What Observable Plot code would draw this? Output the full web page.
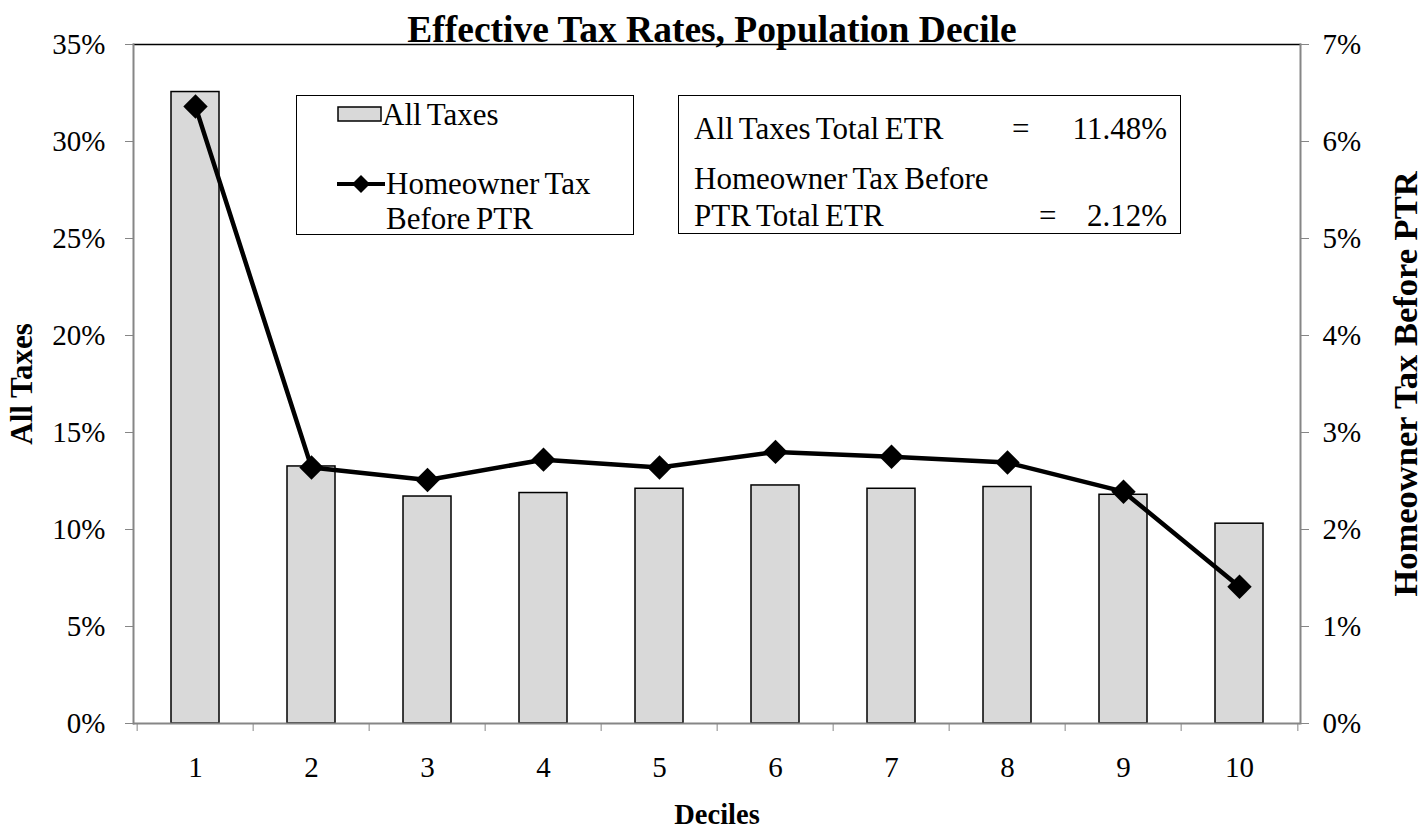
<!DOCTYPE html>
<html><head><meta charset="utf-8">
<script src="https://cdn.jsdelivr.net/npm/d3@7"></script>
<script src="https://cdn.jsdelivr.net/npm/@observablehq/plot@0.6"></script>
<style>
body{margin:0;background:#fff;font-family:"Liberation Serif","Times New Roman",serif;color:#000;}
#wrap{position:relative;width:1424px;height:830px;overflow:hidden;}
#title{position:absolute;left:0;width:1424px;top:11px;text-align:center;font-weight:bold;font-size:37.5px;line-height:37px;}
.box{position:absolute;border:1.5px solid #000;background:#fff;box-sizing:border-box;}
.t{position:absolute;font-size:31px;line-height:31px;white-space:nowrap;word-spacing:-2px;}
.sw{position:absolute;}
</style></head><body>
<div id="wrap">
<div id="chart"></div>
<div id="title">Effective Tax Rates, Population Decile</div>
<div class="box" style="left:296px;top:95px;width:338px;height:140px">
  <svg class="sw" style="left:40px;top:10px" width="48" height="18"><rect x="1" y="1" width="43" height="14" fill="#d9d9d9" stroke="#000" stroke-width="1.5"/></svg>
  <div class="t" style="left:85px;top:3px">All Taxes</div>
  <svg class="sw" style="left:40px;top:75px" width="50" height="26"><line x1="0" y1="13" x2="48" y2="13" stroke="#000" stroke-width="4"/><path d="M24,4 L33,13 L24,22 L15,13 Z" fill="#000"/></svg>
  <div class="t" style="left:89px;top:72px">Homeowner Tax</div>
  <div class="t" style="left:89px;top:107px">Before PTR</div>
</div>
<div class="box" style="left:678px;top:95px;width:503px;height:139px">
  <div class="t" style="left:15px;top:17px">All Taxes Total ETR</div>
  <div class="t" style="left:333px;right:13px;top:17px;display:flex;justify-content:space-between"><span>=</span><span>11.48%</span></div>
  <div class="t" style="left:15px;top:67px">Homeowner Tax Before</div>
  <div class="t" style="left:15px;top:104px">PTR Total ETR</div>
  <div class="t" style="left:360px;right:13px;top:104px;display:flex;justify-content:space-between"><span>=</span><span>2.12%</span></div>
</div>
</div>
<script>
const deciles = ["1","2","3","4","5","6","7","8","9","10"];
const allTaxes = [32.55, 13.25, 11.70, 11.88, 12.10, 12.27, 12.10, 12.19, 11.79, 10.30];
const homeownerTax = [6.36, 2.64, 2.51, 2.72, 2.64, 2.80, 2.75, 2.69, 2.39, 1.41];
const leftTicks = [0, 5, 10, 15, 20, 25, 30, 35];
const rightTicks = [0, 1, 2, 3, 4, 5, 6, 7];
const ratio = 5; // right axis (0-7%) mapped onto left axis (0-35%)

const rows = deciles.map((d, i) => ({decile: d, all: allTaxes[i], home: homeownerTax[i]}));
const W = 1424, H = 830, mL = 133, mR = 124, mT = 44, mB = 107;
const step = (W - mL - mR) / deciles.length;
const gray = "#868686";
const serif = "Liberation Serif, Times New Roman, serif";

const plot = Plot.plot({
  width: W, height: H, marginLeft: mL, marginRight: mR, marginTop: mT, marginBottom: mB,
  style: {fontFamily: serif, background: "white", color: "black", overflow: "visible"},
  x: {type: "band", domain: deciles, paddingInner: 0.59, paddingOuter: 0.295},
  y: {domain: [0, 35]},
  marks: [
    Plot.barY(rows, {x: "decile", y: "all", fill: "#d9d9d9", stroke: "black", strokeWidth: 1.5}),
    Plot.frame({anchor: "top", stroke: "black", strokeWidth: 1.5}),
    Plot.frame({anchor: "left", stroke: gray, strokeWidth: 2}),
    Plot.frame({anchor: "right", stroke: gray, strokeWidth: 2}),
    Plot.ruleY([0], {stroke: gray, strokeWidth: 2}),
    Plot.line(rows, {x: "decile", y: d => d.home * ratio, stroke: "black", strokeWidth: 4.5}),
    Plot.dot(rows, {x: "decile", y: d => d.home * ratio, symbol: "diamond2", r: 11, fill: "black", stroke: "none"}),
    Plot.axisY({anchor: "left", ticks: leftTicks, tickFormat: d => d + "%", tickSize: 8, tickPadding: 20, fontSize: 29, fontFamily: serif, stroke: gray, fill: "black", label: null}),
    Plot.axisY({anchor: "right", ticks: rightTicks.map(t => t * ratio), tickFormat: d => (d / ratio) + "%", tickSize: 8, tickPadding: 14, fontSize: 29, fontFamily: serif, stroke: gray, fill: "black", label: null}),
    Plot.axisX({ticks: deciles, tickSize: 8, dx: -step / 2, stroke: gray, fill: "none", label: null}),
    Plot.axisX({ticks: [deciles[deciles.length - 1]], tickSize: 8, dx: step / 2, stroke: gray, fill: "none", label: null}),
    Plot.axisX({tickSize: 0, tickPadding: 33, fontSize: 29, fontFamily: serif, fill: "black", label: null}),
    Plot.text(["All Taxes"], {frameAnchor: "left", textAnchor: "middle", lineAnchor: "middle", dx: -111, rotate: -90, fontSize: 31, fontWeight: "bold", fontFamily: serif, fill: "black"}),
    Plot.text(["Homeowner Tax Before PTR"], {frameAnchor: "right", textAnchor: "middle", lineAnchor: "middle", dx: 105, rotate: -90, fontSize: 34.5, fontWeight: "bold", fontFamily: serif, fill: "black"}),
    Plot.text(["Deciles"], {frameAnchor: "bottom", textAnchor: "middle", lineAnchor: "middle", dy: 91, fontSize: 28.5, fontWeight: "bold", fontFamily: serif, fill: "black"})
  ]
});
document.getElementById("chart").appendChild(plot);
</script>
</body></html>
